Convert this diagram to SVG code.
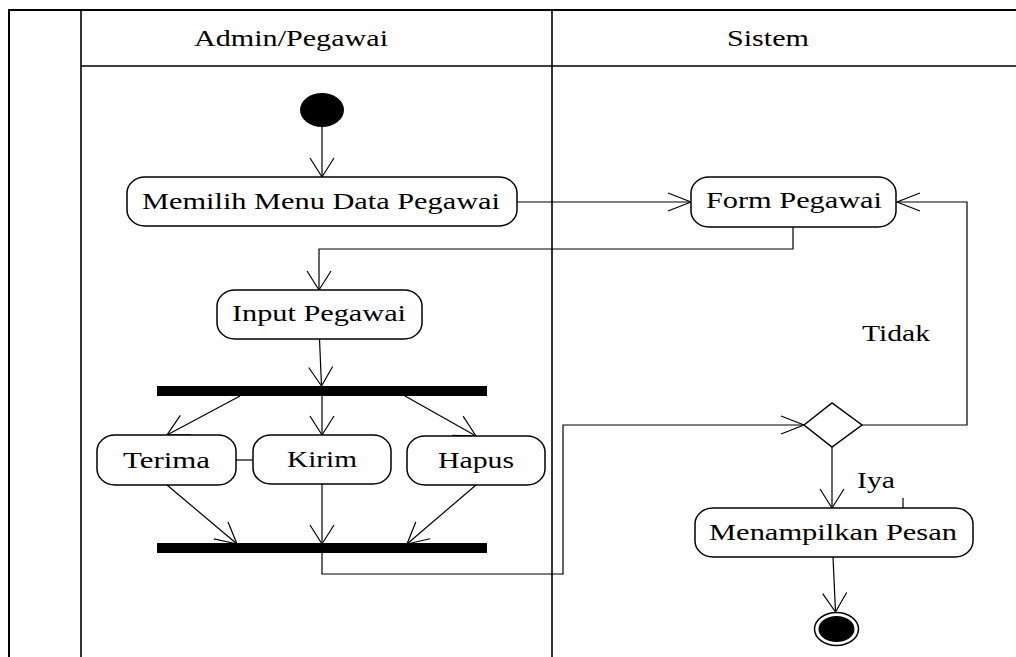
<svg xmlns="http://www.w3.org/2000/svg" width="1016" height="657" viewBox="0 0 1016 657">
<style>
.frame{fill:none;stroke:#000;stroke-width:2}
.lane{fill:none;stroke:#000;stroke-width:1.6}
.act{fill:#fff;stroke:#000;stroke-width:1.5}
.bar{fill:#000}
.t{font-family:"Liberation Serif","Times New Roman",serif;font-size:23px;fill:#000;text-anchor:start}
.c{fill:none;stroke:#000;stroke-width:1.2}
</style>
<defs>
<marker id="av" markerUnits="userSpaceOnUse" viewBox="0 0 20 26" refX="19" refY="13" markerWidth="20" markerHeight="26" orient="auto" overflow="visible">
<path d="M0,1 L19,13 L0,25" fill="none" stroke="#000" stroke-width="1.2"/>
</marker>
<marker id="ah" markerUnits="userSpaceOnUse" viewBox="0 0 24 20" refX="23" refY="10" markerWidth="24" markerHeight="20" orient="auto" overflow="visible">
<path d="M0,1 L23,10 L0,19" fill="none" stroke="#000" stroke-width="1.2"/>
</marker>
<marker id="ad" markerUnits="userSpaceOnUse" viewBox="0 0 22 24" refX="21" refY="12" markerWidth="22" markerHeight="24" orient="auto" overflow="visible">
<path d="M0,1 L21,12 L0,23" fill="none" stroke="#000" stroke-width="1.2"/>
</marker>
</defs>
<rect width="1016" height="657" fill="#fff"/>
<g id="swimlanes">
<path class="frame" d="M9,657 V10 H1016"/>
<path class="lane" d="M81,10 V657"/>
<path class="lane" d="M552,10 V657"/>
<path class="lane" d="M81,66 H1016"/>
<text class="t" x="194" y="46" textLength="194" lengthAdjust="spacingAndGlyphs">Admin/Pegawai</text>
<text class="t" x="727" y="46" textLength="82" lengthAdjust="spacingAndGlyphs">Sistem</text>
</g>
<g id="connectors">
<line class="c" x1="322" y1="127" x2="322" y2="177" marker-end="url(#av)"/>
<line class="c" x1="517" y1="202" x2="691" y2="202" marker-end="url(#ah)"/>
<path class="c" d="M793,227 V249 H319 V290" marker-end="url(#av)"/>
<line class="c" x1="319.5" y1="339" x2="321.5" y2="386" marker-end="url(#av)"/>
<line class="c" x1="240" y1="396" x2="167" y2="435" marker-end="url(#ad)"/>
<line class="c" x1="322" y1="396" x2="322" y2="435" marker-end="url(#av)"/>
<line class="c" x1="405" y1="396" x2="476" y2="436" marker-end="url(#ad)"/>
<line class="c" x1="236" y1="460" x2="253" y2="460"/>
<line class="c" x1="167" y1="485" x2="237" y2="544" marker-end="url(#ad)"/>
<line class="c" x1="322" y1="484" x2="322" y2="544" marker-end="url(#av)"/>
<line class="c" x1="476" y1="485" x2="407" y2="544" marker-end="url(#ad)"/>
<path class="c" d="M322,553 V574 H563 V425 H804" marker-end="url(#ah)"/>
<path class="c" d="M862,425 H967 V202 H897" marker-end="url(#ah)"/>
<line class="c" x1="832" y1="447" x2="832" y2="508" marker-end="url(#av)"/>
<line class="c" x1="903" y1="498" x2="903" y2="508"/>
<line class="c" x1="833" y1="557" x2="835.5" y2="612" marker-end="url(#av)"/>
<text class="t" x="862" y="341" textLength="68" lengthAdjust="spacingAndGlyphs">Tidak</text>
<text class="t" x="857" y="488" textLength="38" lengthAdjust="spacingAndGlyphs">Iya</text>
</g>
<g id="start">
<ellipse cx="322" cy="110" rx="22" ry="17" fill="#000"/>
</g>
<g id="memilih">
<rect class="act" x="127" y="177" width="390" height="49" rx="18" ry="16"/>
<text class="t" x="142" y="209" textLength="358" lengthAdjust="spacingAndGlyphs">Memilih Menu Data Pegawai</text>
</g>
<g id="form">
<rect class="act" x="691" y="177" width="205" height="50" rx="18" ry="16"/>
<text class="t" x="706" y="208" textLength="176" lengthAdjust="spacingAndGlyphs">Form Pegawai</text>
</g>
<g id="input">
<rect class="act" x="217" y="290" width="205" height="49" rx="18" ry="16"/>
<text class="t" x="232" y="321" textLength="174" lengthAdjust="spacingAndGlyphs">Input Pegawai</text>
</g>
<g id="fork">
<rect class="bar" x="157" y="386" width="330" height="10"/>
</g>
<g id="terima">
<rect class="act" x="97" y="435" width="139" height="50" rx="18" ry="16"/>
<text class="t" x="123" y="468" textLength="87" lengthAdjust="spacingAndGlyphs">Terima</text>
</g>
<g id="kirim">
<rect class="act" x="253" y="435" width="138" height="49" rx="18" ry="16"/>
<text class="t" x="287" y="467" textLength="70" lengthAdjust="spacingAndGlyphs">Kirim</text>
</g>
<g id="hapus">
<rect class="act" x="407" y="436" width="138" height="49" rx="18" ry="16"/>
<text class="t" x="438" y="468" textLength="76" lengthAdjust="spacingAndGlyphs">Hapus</text>
</g>
<g id="join">
<rect class="bar" x="157" y="543" width="330" height="10"/>
</g>
<g id="decision">
<polygon points="804,425 832,403 862,425 832,447" fill="#fff" stroke="#000" stroke-width="1.5"/>
</g>
<g id="menampilkan">
<rect class="act" x="695" y="508" width="278" height="49" rx="18" ry="16"/>
<text class="t" x="709" y="540" textLength="248" lengthAdjust="spacingAndGlyphs">Menampilkan Pesan</text>
</g>
<g id="end">
<ellipse cx="836.5" cy="629" rx="22" ry="16.5" fill="#fff" stroke="#000" stroke-width="1.5"/>
<ellipse cx="836.5" cy="629" rx="18" ry="13" fill="#000"/>
</g>
</svg>
